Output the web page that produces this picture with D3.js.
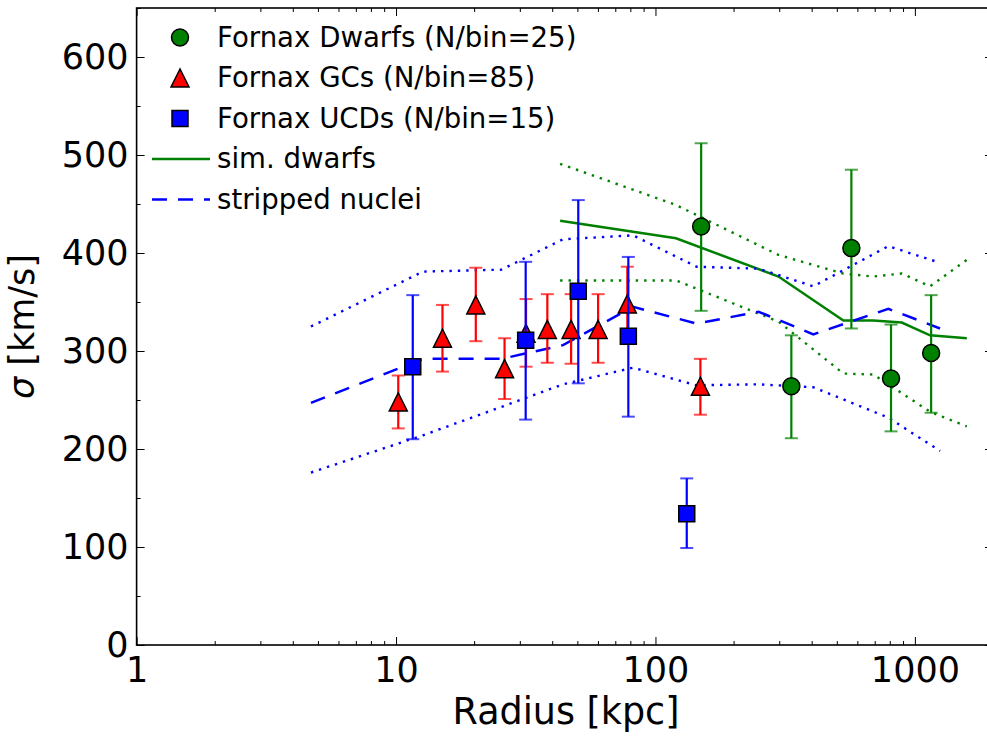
<!DOCTYPE html>
<html>
<head>
<meta charset="utf-8">
<script src="https://cdn.jsdelivr.net/npm/d3@7"></script>
<style>
    body { margin: 0; background: #fff; }
    svg { display: block; font-family: "DejaVu Sans", sans-serif; }
</style>
</head>
<body>
<svg id="base" width="987" height="738"></svg>
<script>
// data

const dwarfR = [150, 334, 569, 809, 1155];
const dwarfS = [427, 264, 405, 272, 298];
const dwarfHi = [512, 316, 485, 327, 357];
const dwarfLo = [341, 211, 323, 218, 237];

const gcR = [10.2, 15.1, 20.3, 26.2, 31.7, 38.3, 47.3, 60.1, 77.9, 149];
const gcS = [248, 313, 347, 282, 318, 322, 322, 322, 348, 264];
const gcHi = [275, 347, 385, 313, 353, 358, 358, 358, 386, 292];
const gcLo = [221, 279, 310, 251, 284, 288, 287, 288, 309, 235];

const ucdR = [11.6, 31.6, 50.4, 78.6, 132];
const ucdS = [284, 311, 361, 315, 134];
const ucdHi = [357, 391, 454, 396, 170];
const ucdLo = [210, 230, 267, 233, 99];

const simR = [42.9, 120, 298, 530, 691, 890, 1144, 1585];
const simMed = [433, 415, 376, 331, 331, 329, 316, 313];
const simHi = [491, 449, 398, 379, 376, 379, 366, 393];
const simLo = [372, 372, 330, 277, 276, 257, 238, 223];

const nucR = [4.7, 12.7, 25.5, 44, 82, 144, 250, 406, 790, 1250];
const nucMed = [247, 292, 292, 306, 345, 328, 340, 317, 343, 323];
const nucHi = [325, 381, 383, 414, 418, 386, 384, 366, 407, 390];
const nucLo = [176, 214, 243, 266, 283, 265, 266, 263, 232, 198];

const xTicks = [1, 10, 100, 1000];
const yTicks = [0, 100, 200, 300, 400, 500, 600];
const yMinor = [50, 150, 250, 350, 450, 550, 650];

const legendLabels = [
    "Fornax Dwarfs (N/bin=25)",
    "Fornax GCs (N/bin=85)",
    "Fornax UCDs (N/bin=15)",
    "sim. dwarfs",
    "stripped nuclei",
];

(function () {
    const base = d3.select("#base");

    const left = 136.6, right = 993, top = 8, bottom = 645;

    const x = d3.scaleLog().domain([1, 2000]).range([left, right]);
    const y = d3.scaleLinear().domain([0, 650]).range([bottom, top]);

    const xMinor = [];
    [1, 10, 100, 1000].forEach((d) => {
        for (let k = 2; k <= 9; k++) if (d * k <= 2000) xMinor.push(d * k);
    });

    const fs = 35;

    // minor ticks
    base.append("g").attr("transform", `translate(0,${bottom})`)
        .call(d3.axisBottom(x).tickValues(xMinor).tickSize(-4).tickFormat(""));
    base.append("g").attr("transform", `translate(0,${top})`)
        .call(d3.axisTop(x).tickValues(xMinor).tickSize(-4).tickFormat(""));
    base.append("g").attr("transform", `translate(${left},0)`)
        .call(d3.axisLeft(y).tickValues(yMinor).tickSize(-4).tickFormat(""));
    base.append("g").attr("transform", `translate(${right},0)`)
        .call(d3.axisRight(y).tickValues(yMinor).tickSize(-4).tickFormat(""));

    // major ticks
    base.append("g").attr("transform", `translate(0,${bottom})`)
        .call(d3.axisBottom(x).tickValues(xTicks).tickSize(-8).tickPadding(12)
            .tickFormat(d3.format("d")));
    base.append("g").attr("transform", `translate(0,${top})`)
        .call(d3.axisTop(x).tickValues(xTicks).tickSize(-8).tickFormat(""));
    base.append("g").attr("transform", `translate(${left},0)`)
        .call(d3.axisLeft(y).tickValues(yTicks).tickSize(-8).tickPadding(8)
            .tickFormat(d3.format("d")));
    base.append("g").attr("transform", `translate(${right},0)`)
        .call(d3.axisRight(y).tickValues(yTicks).tickSize(-8).tickFormat(""));

    base.selectAll(".domain").remove();
    base.selectAll(".tick line").attr("stroke", "#000").attr("stroke-width", 1);
    base.selectAll(".tick text").attr("font-size", fs).attr("fill", "#000")
        .attr("font-family", "DejaVu Sans");

    // sim lines
    const line = (ys) => d3.line().x((d, i) => x(nucR[i])).y((d) => y(d))(ys);
    const simLine = (ys) => d3.line().x((d, i) => x(simR[i])).y((d) => y(d))(ys);

    const lines = base.append("g").attr("fill", "none");
    lines.append("path").attr("d", simLine(simHi)).attr("stroke", "#008000")
        .attr("stroke-width", 2.4).attr("stroke-dasharray", "2.4,6");
    lines.append("path").attr("d", simLine(simLo)).attr("stroke", "#008000")
        .attr("stroke-width", 2.4).attr("stroke-dasharray", "2.4,6");
    lines.append("path").attr("d", simLine(simMed)).attr("stroke", "#008000")
        .attr("stroke-width", 2.5);
    lines.append("path").attr("d", line(nucHi)).attr("stroke", "#0000ff")
        .attr("stroke-width", 2.4).attr("stroke-dasharray", "2.4,6");
    lines.append("path").attr("d", line(nucLo)).attr("stroke", "#0000ff")
        .attr("stroke-width", 2.4).attr("stroke-dasharray", "2.4,6");
    lines.append("path").attr("d", line(nucMed)).attr("stroke", "#0000ff")
        .attr("stroke-width", 2.5).attr("stroke-dasharray", "15,11");

    // markers
    const tri = (s) => `M0,${-s / 2}L${-s / 2},${s / 2}L${s / 2},${s / 2}Z`;
    const sq = (s) => `M${-s / 2},${-s / 2}h${s}v${s}h${-s}Z`;
    const circ = (r) => `M${r},0A${r},${r} 0 1,1 ${-r},0A${r},${r} 0 1,1 ${r},0Z`;

    function errPoints(rs, ss, his, los, color, shape) {
        const g = base.append("g");
        const pts = rs.map((r, i) => ({ r: r, s: ss[i], hi: his[i], lo: los[i] }));
        const bars = g.selectAll("g.bar").data(pts).enter().append("g").attr("class", "bar");
        bars.append("line")
            .attr("x1", (d) => x(d.r)).attr("x2", (d) => x(d.r))
            .attr("y1", (d) => y(d.hi)).attr("y2", (d) => y(d.lo))
            .attr("stroke", color).attr("stroke-width", 2.2);
        ["hi", "lo"].forEach((k) => {
            bars.append("line")
                .attr("x1", (d) => x(d.r) - 6.5).attr("x2", (d) => x(d.r) + 6.5)
                .attr("y1", (d) => y(d[k])).attr("y2", (d) => y(d[k]))
                .attr("stroke", color).attr("stroke-width", 2).attr("stroke-opacity", 0.7);
        });
        g.selectAll("path").data(pts).enter().append("path")
            .attr("d", shape)
            .attr("transform", (d) => `translate(${x(d.r)},${y(d.s)})`)
            .attr("fill", color).attr("stroke", "#000").attr("stroke-width", 1.5);
    }

    errPoints(dwarfR, dwarfS, dwarfHi, dwarfLo, "#008000", circ(8.5));
    errPoints(gcR, gcS, gcHi, gcLo, "#ff0000", tri(18));
    errPoints(ucdR, ucdS, ucdHi, ucdLo, "#0000ff", sq(16));

    // frame
    base.append("rect").attr("x", left).attr("y", top)
        .attr("width", right - left).attr("height", bottom - top)
        .attr("fill", "none").attr("stroke", "#000").attr("stroke-width", 1.6);

    // axis labels
    base.append("text").attr("x", 566).attr("y", 724)
        .attr("text-anchor", "middle").attr("font-size", 36.5).text("Radius [kpc]");
    const yl = base.append("text")
        .attr("transform", `translate(34,${(top + bottom) / 2}) rotate(-90)`)
        .attr("text-anchor", "middle").attr("font-size", fs);
    yl.append("tspan").attr("font-style", "italic").text("σ");
    yl.append("tspan").text(" [km/s]");

    // legend
    const legend = base.append("g");
    const rowY = (i) => 37.5 + i * 40.5;
    const shapes = [
        ["#008000", circ(8.5)],
        ["#ff0000", tri(18)],
        ["#0000ff", sq(16)],
    ];
    shapes.forEach((s, i) => {
        legend.append("path").attr("d", s[1])
            .attr("transform", `translate(180,${rowY(i)})`)
            .attr("fill", s[0]).attr("stroke", "#000").attr("stroke-width", 1.5);
    });
    legend.append("line").attr("x1", 152).attr("x2", 210)
        .attr("y1", rowY(3)).attr("y2", rowY(3))
        .attr("stroke", "#008000").attr("stroke-width", 2.5);
    legend.append("line").attr("x1", 152).attr("x2", 210)
        .attr("y1", rowY(4)).attr("y2", rowY(4))
        .attr("stroke", "#0000ff").attr("stroke-width", 2.5).attr("stroke-dasharray", "15,11");
    legend.selectAll("text").data(legendLabels).enter().append("text")
        .attr("x", 217).attr("y", (d, i) => rowY(i) + 9)
        .attr("font-size", 27.6).text((d) => d);
})();
</script>
</body>
</html>
